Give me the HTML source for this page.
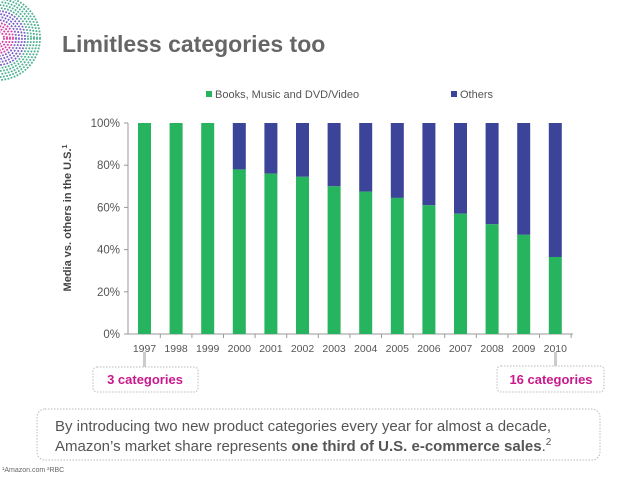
<!DOCTYPE html>
<html><head><meta charset="utf-8"><style>
body{margin:0;background:#fff;font-family:"Liberation Sans",Arial,sans-serif}
#wrap{position:relative;width:638px;height:479px;overflow:hidden}
</style></head><body>
<div id="wrap">
<svg id="chart" width="638" height="479" xmlns="http://www.w3.org/2000/svg">
<g id="logo"></g>
<text x="62" y="52" font-size="23" font-weight="bold" fill="#666">Limitless categories too</text>
<g>
<rect x="206" y="91" width="6" height="6" fill="#27b45e"/>
<text x="215" y="98" font-size="11" fill="#555">Books, Music and DVD/Video</text>
<rect x="451" y="91" width="6" height="6" fill="#3c4499"/>
<text x="460" y="98" font-size="11" fill="#555">Others</text>
</g>
<text transform="translate(71,218) rotate(-90)" text-anchor="middle" font-size="11" font-weight="bold" fill="#444">Media vs. others in the U.S.<tspan font-size="7" dy="-4">1</tspan></text>
<g id="axes"></g>
<g id="bars"></g>
<line x1="144.5" y1="352" x2="144.5" y2="367" stroke="#ccc" stroke-width="3"/>
<line x1="555.5" y1="352" x2="555.5" y2="367" stroke="#ccc" stroke-width="3"/>
<rect x="93" y="367" width="105" height="25" rx="4" fill="#fff" stroke="#bbb" stroke-dasharray="1.5,1.5"/>
<text x="145" y="384" text-anchor="middle" font-size="13" font-weight="bold" fill="#c8198c">3 categories</text>
<rect x="497" y="366" width="107" height="26" rx="4" fill="#fff" stroke="#bbb" stroke-dasharray="1.5,1.5"/>
<text x="551" y="384" text-anchor="middle" font-size="13" font-weight="bold" fill="#c8198c">16 categories</text>
<rect x="37" y="409" width="563" height="51" rx="8" fill="#fff" stroke="#bbb" stroke-dasharray="1.5,1.5"/>
<text x="55" y="431" font-size="15" fill="#555">By introducing two new product categories every year for almost a decade,</text>
<text x="55" y="451" font-size="15" fill="#555">Amazon’s market share represents <tspan font-weight="bold">one third of U.S. e-commerce sales</tspan>.<tspan font-size="10" dy="-6">2</tspan></text>
<text x="2" y="472" font-size="7" fill="#666">¹Amazon.com  ²RBC</text>
</svg>
</div>
<script>
const years=["1997","1998","1999","2000","2001","2002","2003","2004","2005","2006","2007","2008","2009","2010"];
const mediaShare=[100,100,100,78,76,74.5,70,67.5,64.5,61,57,52,47,36.5];
const yTicks=[0,20,40,60,80,100];
const NS="http://www.w3.org/2000/svg";
const x0=144.5,dx=31.6,yB=334,yT=123,bw=13;
const xs=i=>x0+i*dx;
const ys=v=>yB-(v/100)*(yB-yT);
function mk(tag,at,parent){const e=document.createElementNS(NS,tag);for(const k in at)e.setAttribute(k,at[k]);parent.appendChild(e);return e;}
const axes=document.getElementById('axes'),bars=document.getElementById('bars');
let e=mk('line',{x1:128,y1:yT,x2:128,y2:yB,stroke:'#999'},axes);


e=mk('line',{x1:124,y1:yB,x2:573,y2:yB,stroke:'#999'},axes);


yTicks.forEach(t=>{
 const y=ys(t);
 let l=mk('line',{x1:124,y1:y,x2:128,y2:y,stroke:'#999'},axes);
 
 
 let tx=mk('text',{x:120,y:y+4,'text-anchor':'end','font-size':11.5,fill:'#555'},axes);
 tx.textContent=t+'%';
 
 
});
years.forEach((yr,i)=>{
 const cx=xs(i);
 let l=mk('line',{x1:cx+dx/2,y1:yB,x2:cx+dx/2,y2:yB+4,stroke:'#999'},axes);
 
 
 let tx=mk('text',{x:cx,y:yB+18,'text-anchor':'middle','font-size':10.5,fill:'#555'},axes);
 tx.textContent=yr;
 
 
 const v=mediaShare[i];
 let o=mk('rect',{x:cx-bw/2,y:ys(100),width:bw,height:ys(v)-ys(100),fill:'#3c4499'},bars);
 
 
 let g=mk('rect',{x:cx-bw/2,y:ys(v),width:bw,height:yB-ys(v),fill:'#27b45e'},bars);
 
 
});
const logo=document.getElementById('logo');
for(let r=6;r<=42;r+=3){
 const c=mk('circle',{cx:-2,cy:38,r:r,fill:'none',stroke:r<18?'#d8289a':(r<30?'#6a4fc0':'#3ea888'),'stroke-width':1.8,'stroke-dasharray':'1.8,1.4',opacity:0.9},logo);
 
 
}
</script>
</body></html>
